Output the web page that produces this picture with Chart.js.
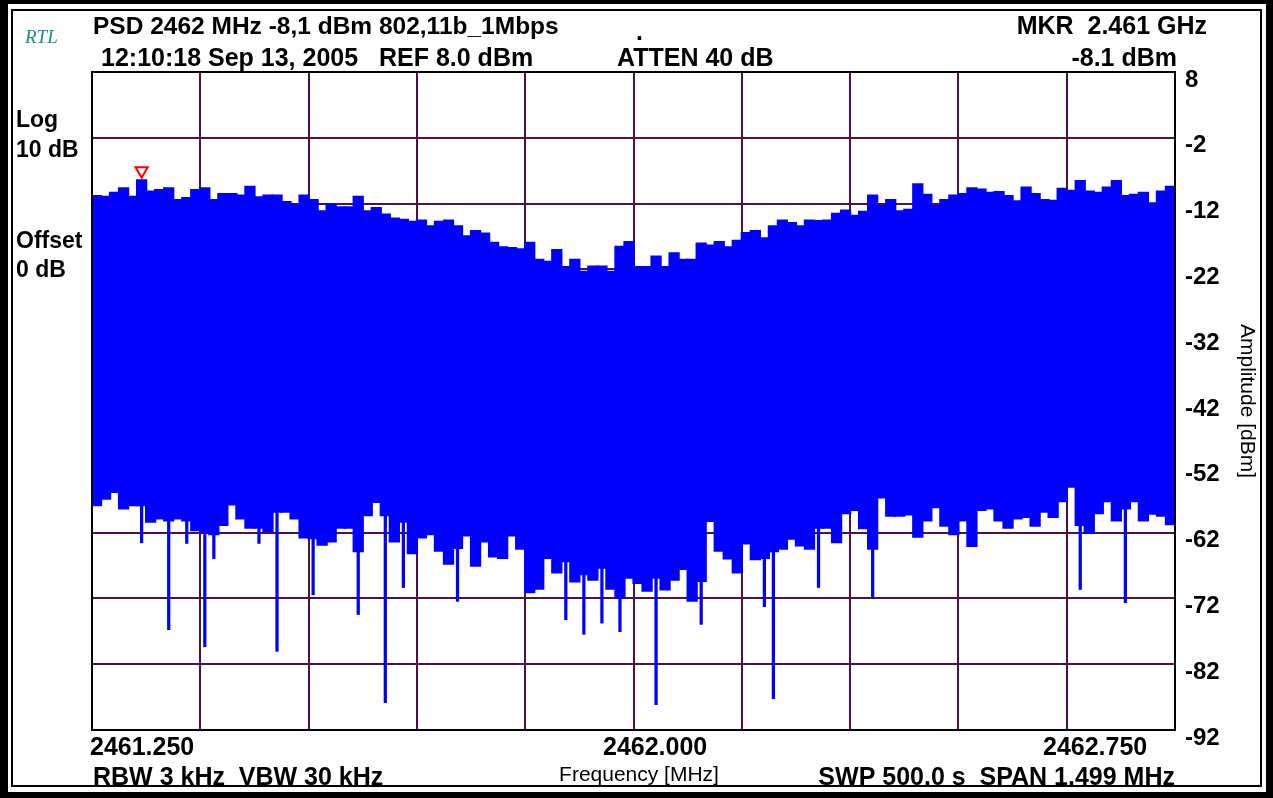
<!DOCTYPE html>
<html>
<head>
<meta charset="utf-8">
<script src="https://cdn.jsdelivr.net/npm/chart.js@4.4.0/dist/chart.umd.min.js"></script>
<style>
  html, body { margin: 0; padding: 0; background: #fff; }
  #wrap { width: 1273px; height: 798px; }
</style>
</head>
<body>
<div id="wrap"><canvas id="chart" width="1273" height="798"></canvas></div>
<script>
const highs = [
  -10.7, -10.8, -10.2, -9.5, -10.8, -8.3, -10, -9.8, -9.5, -11.3,
  -11, -9.8, -9.5, -11.3, -10.4, -10.4, -10.6, -9.3, -10.9, -10.6,
  -10.6, -11.6, -12.1, -10.6, -11.3, -13, -12, -12.4, -12.4, -10.8,
  -13, -12.5, -13.5, -14.1, -14.3, -14.6, -14.4, -15.3, -14.6, -14.4,
  -15.3, -16.8, -16, -16.4, -17.8, -18.5, -18.6, -18.8, -17.8, -20.4,
  -20.7, -18.9, -21.5, -20.4, -22.2, -21.4, -21.4, -22.2, -18.4, -17.7,
  -21.5, -21.5, -19.9, -21.5, -19.4, -20.4, -20.4, -17.9, -18.2, -17.7,
  -18.5, -17.5, -16.3, -16, -17.1, -15.3, -14.4, -14.8, -15.3, -14.4,
  -14.5, -14.4, -13.4, -12.9, -13.7, -13.1, -10.6, -12.2, -11.3, -13,
  -12.8, -8.9, -10.5, -12.2, -11.3, -10.6, -10.4, -9.5, -9.7, -10.2,
  -10.1, -10.7, -11.5, -9.4, -10.4, -11.3, -11.4, -9.6, -9.9, -8.4,
  -10, -10.2, -9.4, -8.4, -10.7, -10.5, -10.2, -11.8, -10, -9.3
];
const lows = [
  -58, -57, -56, -58.5, -58, -58, -60.5, -60, -60.3, -60,
  -60.3, -61.8, -62, -62.4, -61, -57.9, -60, -61.4, -61.4, -62,
  -59, -59, -60, -62.9, -63, -64, -63.5, -61.4, -61.4, -65,
  -59.5, -57.5, -59.5, -63.5, -60.5, -65.3, -62.9, -62.4, -64.9, -66.9,
  -64.5, -62.6, -67.2, -63.5, -65.8, -66, -62.6, -64.6, -71.2, -70.7,
  -66, -68.2, -66.5, -69.6, -68.5, -69.3, -67.5, -70.7, -72, -69,
  -69.8, -71, -69, -70.8, -69.3, -67.7, -72.5, -69.5, -60.4, -64.9,
  -66.1, -68.2, -63.8, -66.2, -66, -65, -64.6, -63.1, -64.1, -64.6,
  -61.4, -61.4, -63.6, -59.2, -58.7, -61.5, -64.6, -56.8, -59.6, -59.6,
  -59.4, -62.8, -60.3, -58.3, -61.1, -62.4, -60.3, -64.2, -58.7, -58.5,
  -60.3, -61.4, -60, -59.8, -61.1, -59, -59.8, -57.4, -55.2, -61,
  -62.2, -59.2, -57.4, -60.3, -58.5, -57.4, -60.3, -59.3, -59.6, -60.9
];
// narrow drop-outs below the trace
const spikeCols = [5, 8, 10, 12, 13, 18, 20, 24, 29, 32, 34, 40, 52, 54, 56, 58, 62, 67, 74, 75, 80, 86, 109, 114];
const spikeVals = [-63.6, -76.8, -63.7, -79.4, -66, -63.7, -80.1, -71.5, -74.5, -87.9, -70.4, -72.5, -75.3, -77.5, -75.8, -77.1, -88.2, -76, -73.3, -87.3, -70.4, -72, -70.7, -72.7];

const yTicks = [8, -2, -12, -22, -32, -42, -52, -62, -72, -82, -92];
const freqTickLabels = ['2461.250', '2462.000', '2462.750'];
const markerCol = 5;
const markerLevel = -7.0;

const startMHz = 2461.25, spanMHz = 1.499;
const freqs = highs.map((_, i) => (startMHz + (i + 0.5) * spanMHz / highs.length).toFixed(4));

const gridColor = '#4b1446';
const bold = 'bold 25px "Liberation Sans", Arial, sans-serif';
const boldSide = 'bold 23px "Liberation Sans", Arial, sans-serif';
const plain = '21px "Liberation Sans", Arial, sans-serif';

const texts = [
  { t: 'RTL', x: 25, y: 43, f: 'italic 19px "Liberation Serif", "DejaVu Serif", serif', c: '#1a8a8a', a: 'left' },
  { t: 'PSD 2462 MHz -8,1 dBm 802,11b_1Mbps', x: 93, y: 34, f: 'bold 24.5px "Liberation Sans", Arial, sans-serif', a: 'left' },
  { t: '12:10:18 Sep 13, 2005   REF 8.0 dBm', x: 101, y: 66, f: bold, a: 'left' },
  { t: '.', x: 636, y: 40, f: bold, a: 'left' },
  { t: 'ATTEN 40 dB', x: 617, y: 66, f: bold, a: 'left' },
  { t: 'MKR  2.461 GHz', x: 1207, y: 34, f: bold, a: 'right' },
  { t: '-8.1 dBm', x: 1177, y: 66, f: bold, a: 'right' },
  { t: 'Log', x: 16, y: 127, f: boldSide, a: 'left' },
  { t: '10 dB', x: 16, y: 157, f: boldSide, a: 'left' },
  { t: 'Offset', x: 16, y: 248, f: boldSide, a: 'left' },
  { t: '0 dB', x: 16, y: 277, f: boldSide, a: 'left' },
  { t: freqTickLabels[0], x: 90, y: 755, f: bold, a: 'left' },
  { t: freqTickLabels[1], x: 603, y: 755, f: bold, a: 'left' },
  { t: freqTickLabels[2], x: 1043, y: 755, f: bold, a: 'left' },
  { t: 'RBW 3 kHz  VBW 30 kHz', x: 93, y: 785, f: bold, a: 'left' },
  { t: 'Frequency [MHz]', x: 639, y: 781, f: plain, a: 'center' },
  { t: 'SWP 500.0 s  SPAN 1.499 MHz', x: 1175, y: 785, f: bold, a: 'right' }
];

const screenFrame = {
  id: 'screenFrame',
  beforeDraw(chart) {
    const ctx = chart.ctx;
    ctx.save();
    ctx.fillStyle = '#000';
    ctx.fillRect(0, 0, chart.width, chart.height);
    ctx.fillStyle = '#fff';
    ctx.fillRect(8, 4, chart.width - 15, chart.height - 10);
    ctx.strokeStyle = '#000';
    ctx.lineWidth = 2;
    ctx.strokeRect(12, 10, chart.width - 24, chart.height - 22);
    ctx.restore();
  },
  afterDraw(chart) {
    const ctx = chart.ctx;
    const a = chart.chartArea;
    ctx.save();
    ctx.strokeStyle = '#000';
    ctx.lineWidth = 2;
    ctx.strokeRect(a.left, a.top, a.right - a.left, a.bottom - a.top);
    ctx.textBaseline = 'alphabetic';
    texts.forEach(s => {
      ctx.font = s.f;
      ctx.fillStyle = s.c || '#000';
      ctx.textAlign = s.a;
      ctx.fillText(s.t, s.x, s.y);
    });
    ctx.restore();
  }
};

const spikeData = highs.map(() => null);
spikeCols.forEach((c, k) => { spikeData[c] = [spikeVals[k], lows[c] + 2]; });

const ctx = document.getElementById('chart').getContext('2d');
new Chart(ctx, {
  type: 'bar',
  data: {
    labels: freqs,
    datasets: [
      {
        type: 'line',
        label: 'marker',
        data: highs.map((_, i) => i === markerCol ? markerLevel : null),
        showLine: false,
        pointStyle: 'triangle',
        rotation: 180,
        radius: 7,
        borderColor: '#ff0000',
        backgroundColor: 'rgba(255,255,255,0)',
        borderWidth: 2,
        order: 0
      },
      {
        label: 'dropouts',
        data: spikeData,
        backgroundColor: '#0000ff',
        borderWidth: 0,
        barPercentage: 0.36,
        categoryPercentage: 1,
        grouped: false,
        order: 1
      },
      {
        label: 'PSD',
        data: highs.map((h, i) => [lows[i], h]),
        backgroundColor: '#0000ff',
        borderWidth: 0,
        barPercentage: 1.25,
        categoryPercentage: 1,
        grouped: false,
        order: 2
      }
    ]
  },
  options: {
    responsive: false,
    animation: false,
    devicePixelRatio: 1,
    events: [],
    layout: { padding: { left: 92, top: 72, bottom: 68, right: 0 } },
    plugins: {
      legend: { display: false },
      tooltip: { enabled: false }
    },
    scales: {
      x: { display: false },
      xg: {
        type: 'linear',
        position: 'bottom',
        min: 0,
        max: 10,
        offset: false,
        ticks: { display: false, stepSize: 1 },
        grid: { color: gridColor, lineWidth: 2, drawTicks: false, offset: false },
        border: { display: false },
        afterFit(scale) { scale.height = 0; }
      },
      y: {
        type: 'linear',
        position: 'right',
        min: -92,
        max: 8,
        afterBuildTicks(scale) { scale.ticks = yTicks.map(v => ({ value: v })); },
        afterFit(scale) { scale.width = 98; },
        ticks: {
          color: '#000',
          padding: 10,
          labelOffset: 8,
          font: { family: '"Liberation Sans", Arial, sans-serif', size: 24, weight: 'bold' }
        },
        grid: { color: gridColor, lineWidth: 2, drawTicks: false },
        border: { display: false },
        title: {
          display: true,
          text: 'Amplitude [dBm]',
          color: '#000',
          padding: { top: 14, bottom: 0 },
          font: { family: '"Liberation Sans", Arial, sans-serif', size: 21 }
        }
      }
    }
  },
  plugins: [screenFrame]
});
</script>
</body>
</html>
